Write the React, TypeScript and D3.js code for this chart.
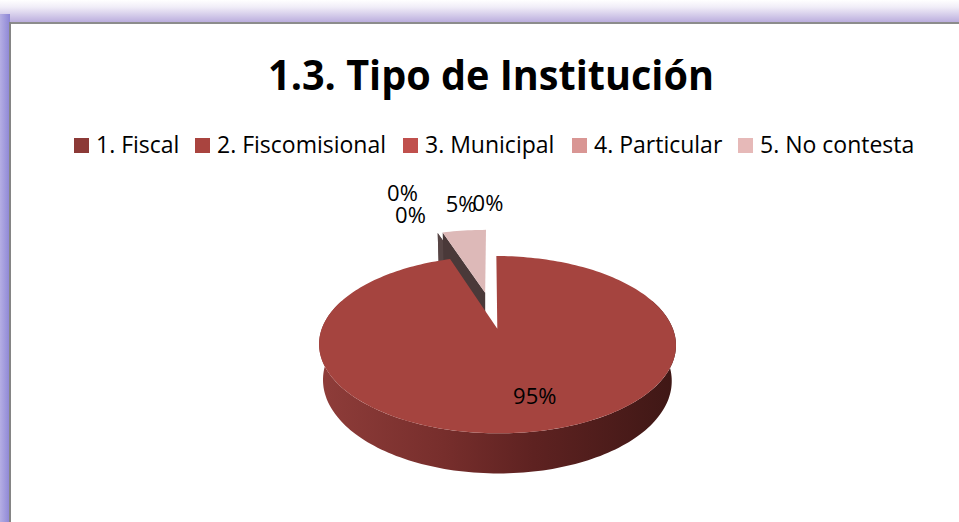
import React from 'react';
import * as d3 from 'd3';

const categories = ['1. Fiscal', '2. Fiscomisional', '3. Municipal', '4. Particular', '5. No contesta'];
const values = [95, 0, 0, 5, 0];
const percentLabels = ['95%', '0%', '0%', '5%', '0%'];
const legendColors = ['#8C3A37', '#A9443F', '#C0504D', '#D99694', '#E6B9B8'];
const topColors = ['#A5443F', '#A9443F', '#C0504D', '#DDB9B8', '#E6B9B8'];
const faceColors = ['#4A3939', '#574545', '#574545', '#4A3939', '#574545'];
const title = '1.3. Tipo de Institución';

// label placement tweaks (style)
const labelRadius = [0.55, 1.12, 1.12, 1.12, 1.12];
const labelNudge: [number, number][] = [[20, 24], [-31, -26], [-23, -4], [-1, -12], [-3, -12]];

const W = 959, H = 522;
const cx = 491, cy = 310, F = 860, D = 5.1;
const alpha = (28 * Math.PI) / 180;
const sa = Math.sin(alpha), ca = Math.cos(alpha);
const thick = 0.236;
const explode = 0.23;

function proj(X: number, Y: number, Z: number): [number, number] {
  const dist = D - (Y * sa + Z * ca);
  return [cx + (F * X) / dist, cy + (F * (Z * sa - Y * ca)) / dist];
}

const line = d3.line<[number, number]>().x(d => d[0]).y(d => d[1]);
const closed = (pts: [number, number][]) => (line(pts) || '') + 'Z';

export default function App() {
  const pie = d3.pie<number>().sort(null).value(d => d).startAngle(0).endAngle(2 * Math.PI);
  const arcs = pie(values);

  const slices = arcs.map((a, i) => {
    const m = (a.startAngle + a.endAngle) / 2;
    const ox = explode * Math.sin(m);
    const oz = -explode * Math.cos(m);
    const rim = (th: number, Y: number, r = 1) => proj(ox + r * Math.sin(th), Y, oz - r * Math.cos(th));
    return { a, i, m, ox, oz, rim };
  });

  const zeroFaces: JSX.Element[] = [];
  const solids: { oz: number; el: JSX.Element }[] = [];

  slices.forEach(s => {
    const { a, i, ox, oz, rim } = s;
    const a0 = a.startAngle, a1 = a.endAngle;
    // start radial face, visible check
    const faceFor = (ang: number, sign: number) => {
      const nAng = ang + sign * Math.PI / 2;
      const nx = Math.sin(nAng), nz = -Math.cos(nAng);
      const dot = nx * (0 - ox) + nz * (D * ca - oz);
      if (dot <= 0.05) return null;
      const pts: [number, number][] = [
        proj(ox, 0, oz), rim(ang, 0), rim(ang, -thick), proj(ox, -thick, oz),
      ];
      return <path key={`f${i}-${sign}`} d={closed(pts)} fill={faceColors[i]} />;
    };
    if (a1 - a0 < 1e-9) {
      const f = faceFor(a0, -1);
      if (f) zeroFaces.push(f);
      return;
    }
    const parts: JSX.Element[] = [];
    const f0 = faceFor(a0, -1);
    const f1 = faceFor(a1, 1);
    if (f0) parts.push(f0);
    if (f1) parts.push(f1);
    // outer wall
    const w0 = Math.max(a0, Math.PI / 2 - 0.35);
    const w1 = Math.min(a1, (3 * Math.PI) / 2 + 0.35);
    if (w1 > w0) {
      const n = 160;
      const topPts: [number, number][] = d3.range(n + 1).map(k => rim(w0 + ((w1 - w0) * k) / n, 0));
      const botPts: [number, number][] = d3.range(n + 1).map(k => rim(w1 - ((w1 - w0) * k) / n, -thick));
      parts.push(<path key={`w${i}`} d={closed([...topPts, ...botPts])} fill={`url(#wall${i})`} />);
    }
    const nTop = Math.max(8, Math.ceil(((a1 - a0) / (2 * Math.PI)) * 240));
    const topPts: [number, number][] = [proj(ox, 0, oz), ...d3.range(nTop + 1).map(k => rim(a0 + ((a1 - a0) * k) / nTop, 0))];
    parts.push(<path key={`t${i}`} d={closed(topPts)} fill={topColors[i]} />);
    solids.push({ oz, el: <g key={`s${i}`}>{parts}</g> });
  });
  solids.sort((p, q) => p.oz - q.oz);

  const labelEls = slices.map(s => {
    const { m, ox, oz, i } = s;
    const r = labelRadius[i];
    const [lx, ly] = proj(ox + r * Math.sin(m), 0, oz - r * Math.cos(m));
    return (
      <text key={`l${i}`} x={lx + labelNudge[i][0]} y={ly + labelNudge[i][1]} textAnchor="middle"
        fontFamily="'Open Sans', sans-serif" fontSize={22} fill="#000">{percentLabels[i]}</text>
    );
  });

  // legend layout
  const legendX = [74, 195, 403, 572, 738];
  const legend = categories.map((c, i) => (
    <g key={`lg${i}`}>
      <rect x={legendX[i]} y={138} width={15} height={15} fill={legendColors[i]} />
      <text x={legendX[i] + 22} y={153} fontFamily="'Open Sans', sans-serif" fontSize={23} fill="#000">{c}</text>
    </g>
  ));

  return (
    <svg width={W} height={H} style={{ position: 'absolute', left: 0, top: 0 }}>
      <defs>
        <linearGradient id="topBand" x1="0" y1="0" x2="0" y2="1">
          <stop offset="0" stopColor="#FFFFFF" />
          <stop offset="0.3" stopColor="#F1EEF8" />
          <stop offset="1" stopColor="#B8AADC" />
        </linearGradient>
        <linearGradient id="leftBand" x1="0" y1="0" x2="1" y2="0">
          <stop offset="0" stopColor="#B5AEE3" />
          <stop offset="1" stopColor="#8C85D5" />
        </linearGradient>
        {values.map((_, i) => (
          <linearGradient key={`g${i}`} id={`wall${i}`} gradientUnits="userSpaceOnUse" x1={317} y1={0} x2={678} y2={0}>
            <stop offset="0" stopColor="#8F3D3A" />
            <stop offset="0.35" stopColor="#772E2C" />
            <stop offset="0.6" stopColor="#5E2221" />
            <stop offset="1" stopColor="#3E1715" />
          </linearGradient>
        ))}
      </defs>
      <rect x={0} y={0} width={W} height={H} fill="#FFFFFF" />
      <rect x={0} y={0} width={W} height={23} fill="url(#topBand)" />
      <rect x={0} y={14} width={10} height={H - 14} fill="url(#leftBand)" />
      <rect x={9} y={22} width={W - 9} height={2} fill="#8C8C8C" />
      <rect x={9} y={22} width={2} height={H - 22} fill="#858585" />
      <text x={491} y={90} textAnchor="middle" fontFamily="'Open Sans', sans-serif" fontWeight={700}
        fontSize={42} textLength={446} lengthAdjust="spacingAndGlyphs" fill="#000">{title}</text>
      {legend}
      <g>{zeroFaces}</g>
      <g>{solids.map(s => s.el)}</g>
      {labelEls}
    </svg>
  );
}
